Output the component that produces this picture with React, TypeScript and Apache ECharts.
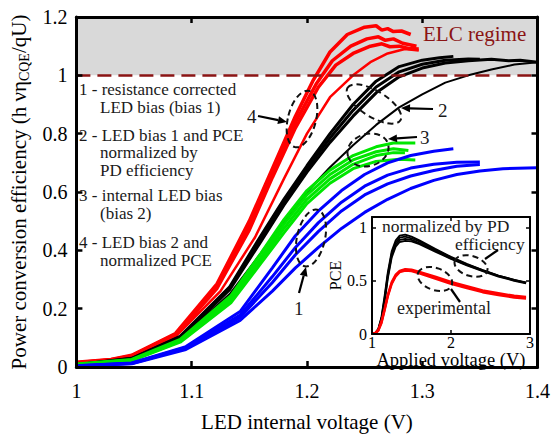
import React, { useEffect, useRef } from 'react';
import * as echarts from 'echarts';

type P = [number, number][];

const red1: P = [[1,0.016],[1.03,0.026],[1.048,0.04],[1.086,0.115],[1.122,0.285],[1.15,0.5],[1.17,0.68],[1.19,0.86],[1.205,0.98],[1.22,1.08],[1.235,1.14],[1.25,1.165],[1.26,1.17],[1.265,1.155],[1.27,1.16],[1.275,1.15],[1.282,1.152],[1.29,1.14]];
const red2: P = [[1,0.015],[1.03,0.025],[1.048,0.038],[1.086,0.112],[1.122,0.278],[1.15,0.485],[1.17,0.665],[1.19,0.84],[1.208,0.97],[1.222,1.05],[1.238,1.1],[1.252,1.125],[1.262,1.132],[1.268,1.12],[1.275,1.125],[1.283,1.11],[1.295,1.1]];
const red3: P = [[1,0.014],[1.03,0.024],[1.048,0.036],[1.086,0.108],[1.122,0.27],[1.15,0.47],[1.17,0.65],[1.19,0.82],[1.21,0.96],[1.225,1.035],[1.24,1.075],[1.255,1.1],[1.265,1.108],[1.272,1.098],[1.28,1.1],[1.288,1.092],[1.297,1.09]];
const red4: P = [[1,0.013],[1.03,0.022],[1.048,0.034],[1.086,0.104],[1.125,0.26],[1.155,0.445],[1.18,0.645],[1.2,0.8],[1.22,0.925],[1.24,1.0],[1.255,1.045],[1.27,1.075],[1.285,1.09],[1.297,1.085]];

const blk1: P = [[1,0.008],[1.048,0.03],[1.09,0.105],[1.133,0.275],[1.16,0.45],[1.18,0.575],[1.2,0.69],[1.22,0.8],[1.24,0.9],[1.26,0.98],[1.28,1.03],[1.3,1.052],[1.315,1.06],[1.327,1.065]];
const blk2: P = [[1,0.008],[1.048,0.029],[1.09,0.103],[1.133,0.27],[1.16,0.44],[1.18,0.565],[1.2,0.68],[1.22,0.785],[1.24,0.88],[1.26,0.96],[1.28,1.012],[1.3,1.038],[1.32,1.052],[1.34,1.056],[1.35,1.055]];
const blk3: P = [[1,0.007],[1.048,0.028],[1.09,0.1],[1.133,0.265],[1.16,0.43],[1.18,0.555],[1.2,0.668],[1.22,0.77],[1.24,0.86],[1.26,0.94],[1.28,0.995],[1.3,1.025],[1.32,1.042],[1.34,1.05],[1.36,1.055],[1.375,1.05],[1.385,1.052],[1.4,1.045]];
const blk4: P = [[1,0.007],[1.048,0.027],[1.09,0.097],[1.133,0.25],[1.16,0.39],[1.18,0.5],[1.2,0.6],[1.22,0.685],[1.24,0.76],[1.26,0.83],[1.28,0.89],[1.3,0.935],[1.32,0.975],[1.34,1.0],[1.36,1.02],[1.38,1.037],[1.4,1.045]];

const grn1: P = [[1,0.01],[1.048,0.026],[1.09,0.095],[1.134,0.245],[1.16,0.39],[1.18,0.505],[1.2,0.605],[1.22,0.675],[1.24,0.725],[1.26,0.755],[1.275,0.768],[1.294,0.768]];
const grn2: P = [[1,0.009],[1.048,0.024],[1.09,0.09],[1.134,0.235],[1.16,0.375],[1.18,0.49],[1.2,0.59],[1.22,0.66],[1.24,0.71],[1.26,0.738],[1.275,0.748],[1.288,0.742]];
const grn3: P = [[1,0.009],[1.048,0.023],[1.09,0.088],[1.134,0.228],[1.16,0.365],[1.18,0.475],[1.2,0.575],[1.22,0.645],[1.24,0.695],[1.26,0.725],[1.275,0.735],[1.285,0.735]];
const grn4: P = [[1,0.008],[1.048,0.022],[1.09,0.085],[1.134,0.22],[1.16,0.355],[1.18,0.46],[1.2,0.56],[1.22,0.63],[1.24,0.68],[1.26,0.705],[1.28,0.712],[1.294,0.71]];

const blu1: P = [[1,0.004],[1.048,0.014],[1.095,0.07],[1.142,0.19],[1.17,0.34],[1.19,0.45],[1.21,0.535],[1.23,0.605],[1.25,0.66],[1.27,0.7],[1.29,0.725],[1.31,0.74],[1.327,0.748]];
const blu2: P = [[1,0.004],[1.048,0.013],[1.095,0.067],[1.142,0.178],[1.17,0.31],[1.19,0.41],[1.21,0.495],[1.23,0.565],[1.25,0.62],[1.27,0.658],[1.29,0.682],[1.31,0.695],[1.33,0.702],[1.35,0.703]];
const blu3: P = [[1,0.003],[1.048,0.012],[1.095,0.064],[1.142,0.17],[1.17,0.29],[1.19,0.385],[1.21,0.465],[1.23,0.535],[1.25,0.59],[1.27,0.628],[1.29,0.655],[1.31,0.674],[1.33,0.688],[1.35,0.694]];
const blu4: P = [[1,0.003],[1.048,0.011],[1.095,0.06],[1.142,0.16],[1.17,0.26],[1.19,0.34],[1.21,0.41],[1.23,0.475],[1.25,0.53],[1.27,0.575],[1.29,0.612],[1.31,0.64],[1.33,0.66],[1.35,0.672],[1.37,0.68],[1.4,0.683]];

// inset: PCE vs applied voltage
const inBlk1: P = [[1,0],[1.04,0.01],[1.08,0.05],[1.12,0.16],[1.16,0.36],[1.2,0.58],[1.25,0.78],[1.3,0.88],[1.35,0.925],[1.42,0.935],[1.5,0.915],[1.6,0.88],[1.8,0.8],[2,0.725],[2.2,0.66],[2.4,0.6],[2.6,0.55],[2.8,0.51],[2.95,0.48]];
const inBlk2: P = [[1,0],[1.04,0.008],[1.08,0.045],[1.12,0.15],[1.16,0.34],[1.2,0.56],[1.25,0.76],[1.3,0.86],[1.35,0.905],[1.42,0.915],[1.5,0.9],[1.6,0.87],[1.8,0.795],[2,0.72],[2.2,0.655],[2.4,0.6],[2.6,0.55],[2.8,0.51],[2.95,0.485]];
const inBlk3: P = [[1,0],[1.04,0.007],[1.08,0.04],[1.12,0.14],[1.16,0.32],[1.2,0.54],[1.25,0.74],[1.3,0.84],[1.35,0.885],[1.42,0.895],[1.5,0.885],[1.6,0.855],[1.8,0.785],[2,0.71],[2.2,0.65],[2.4,0.595],[2.6,0.545],[2.8,0.505],[2.95,0.48]];
const inBlk4: P = [[1,0],[1.04,0.006],[1.08,0.035],[1.12,0.13],[1.16,0.3],[1.2,0.52],[1.25,0.72],[1.3,0.82],[1.35,0.865],[1.42,0.875],[1.5,0.87],[1.6,0.845],[1.8,0.775],[2,0.705],[2.2,0.645],[2.4,0.59],[2.6,0.54],[2.8,0.5],[2.95,0.475]];
const inRed1: P = [[1,0],[1.04,0.01],[1.08,0.04],[1.12,0.12],[1.16,0.24],[1.2,0.37],[1.25,0.49],[1.3,0.56],[1.35,0.595],[1.42,0.61],[1.5,0.605],[1.6,0.585],[1.8,0.54],[2,0.49],[2.2,0.45],[2.4,0.41],[2.6,0.385],[2.8,0.36],[2.95,0.35]];
const inRed2: P = [[1,0],[1.04,0.008],[1.08,0.035],[1.12,0.11],[1.16,0.23],[1.2,0.36],[1.25,0.48],[1.3,0.55],[1.35,0.588],[1.42,0.603],[1.5,0.598],[1.6,0.578],[1.8,0.53],[2,0.48],[2.2,0.44],[2.4,0.4],[2.6,0.375],[2.8,0.35],[2.95,0.34]];
const inRed3: P = [[1,0],[1.04,0.007],[1.08,0.03],[1.12,0.1],[1.16,0.22],[1.2,0.35],[1.25,0.47],[1.3,0.54],[1.35,0.58],[1.42,0.595],[1.5,0.59],[1.6,0.57],[1.8,0.52],[2,0.47],[2.2,0.43],[2.4,0.392],[2.6,0.365],[2.8,0.342],[2.95,0.332]];

const xTickLabelsMain = ['1', '1.1', '1.2', '1.3', '1.4'];
const yTickLabelsMain = ['0', '0.2', '0.4', '0.6', '0.8', '1', '1.2'];

const FONT = "'Liberation Serif', 'Times New Roman', serif";
const DARKRED = '#8b1414';
const TXT = '#1a1a1a';

function arrow(x1: number, y1: number, x2: number, y2: number, head = true) {
  const a = Math.atan2(y2 - y1, x2 - x1);
  const L = head ? 9 : 0, W = 4;
  const c = Math.cos(a), s = Math.sin(a);
  const bx = x2 - L * c, by = y2 - L * s;
  const els: any[] = [
    { type: 'line', z: 100, shape: { x1, y1, x2: bx, y2: by }, style: { stroke: '#000', lineWidth: 2.2 } },
  ];
  if (head) {
    els.push({
      type: 'polygon', z: 100,
      shape: { points: [[x2, y2], [bx - W * s, by + W * c], [bx + W * s, by - W * c]] },
      style: { fill: '#000' },
    });
  }
  return els;
}

function ell(cx: number, cy: number, rx: number, ry: number, rot: number) {
  return {
    type: 'ellipse', z: 100, x: cx, y: cy, rotation: rot,
    shape: { cx: 0, cy: 0, rx, ry },
    style: { fill: 'none', stroke: '#111', lineWidth: 2, lineDash: [6, 4] },
  };
}

function txt(x: number, y: number, text: string, size: number, color = TXT) {
  return {
    type: 'text', z: 100, x, y,
    style: {
      text, fontSize: size, fontFamily: FONT, fill: color,
      align: 'left', verticalAlign: 'middle', lineHeight: size,
    },
  };
}

export default function App() {
  const ref = useRef<HTMLDivElement>(null);
  useEffect(() => {
    const chart = echarts.init(ref.current!, null, { renderer: 'svg' });

    const line = (data: P, color: string, width: number, xi = 0, yi = 0, z = 3) => ({
      type: 'line', data, xAxisIndex: xi, yAxisIndex: yi, showSymbol: false, symbol: 'none',
      lineStyle: { color, width }, z, silent: true,
    });

    const frameAxis = (common: any) => ({
      type: 'value', z: 10,
      splitLine: { show: false },
      axisLine: { show: true, onZero: false, lineStyle: { color: '#000', width: 3 } },
      axisTick: { show: true, inside: true, length: 6, lineStyle: { color: '#000', width: 2.5 } },
      ...common,
    });
    const insetAxis = (common: any) => ({
      type: 'value', z: 12,
      splitLine: { show: false },
      axisLine: { show: true, onZero: false, lineStyle: { color: '#000', width: 2 } },
      axisTick: { show: true, inside: true, length: 4, lineStyle: { color: '#000', width: 1.5 } },
      ...common,
    });

    const mainLabel = { fontSize: 20, fontFamily: FONT, color: '#000' };

    const option: any = {
      animation: false,
      backgroundColor: '#fff',
      grid: [
        { left: 71, top: 17, width: 468, height: 352, show: false },
        { left: 372, top: 217, width: 158, height: 117, show: true, backgroundColor: '#fff', borderWidth: 0, z: 5 },
      ],
      xAxis: [
        frameAxis({
          gridIndex: 0, position: 'bottom', min: 1, max: 1.4, interval: 0.1,
          axisLabel: { ...mainLabel, margin: 14, formatter: (v: number) => xTickLabelsMain[Math.round((v - 1) * 10)] ?? '' },
          name: 'LED internal voltage (V)', nameLocation: 'middle', nameGap: 44,
          nameTextStyle: { fontSize: 21, fontFamily: FONT, color: '#000' },
        }),
        frameAxis({ gridIndex: 0, position: 'top', min: 1, max: 1.4, interval: 0.1, axisLabel: { show: false } }),
        insetAxis({
          gridIndex: 1, position: 'bottom', min: 1, max: 3, interval: 1,
          axisLabel: { fontSize: 16, fontFamily: FONT, color: '#000', margin: 1, lineHeight: 14 },
          name: 'Applied voltage (V)', nameLocation: 'middle', nameGap: 13,
          nameTextStyle: { fontSize: 18.5, fontFamily: FONT, color: '#000', lineHeight: 17 },
        }),
        insetAxis({ gridIndex: 1, position: 'top', min: 1, max: 3, interval: 1, axisLabel: { show: false } }),
      ],
      yAxis: [
        frameAxis({
          gridIndex: 0, position: 'left', min: 0, max: 1.2, interval: 0.2,
          axisLabel: { ...mainLabel, margin: 9, formatter: (v: number) => yTickLabelsMain[Math.round(v * 5)] ?? '' },
          name: '{n|Power conversion efficiency (h νη}{s|CQE}{n|/qU)}',
          nameLocation: 'middle', nameGap: 36,
          nameTextStyle: {
            fontFamily: FONT, color: '#000',
            rich: {
              n: { fontSize: 21, fontFamily: FONT, color: '#000' },
              s: { fontSize: 14, fontFamily: FONT, color: '#000', padding: [12, 0, 0, 0] },
            },
          },
        }),
        frameAxis({ gridIndex: 0, position: 'right', min: 0, max: 1.2, interval: 0.2, axisLabel: { show: false } }),
        insetAxis({
          gridIndex: 1, position: 'left', min: 0, max: 1.1, interval: 0.5,
          axisLabel: {
            fontSize: 16, fontFamily: FONT, color: '#000', margin: 5, showMaxLabel: false,
            formatter: (v: number) => (Math.abs(v - 1.1) < 1e-6 ? '' : String(v)),
          },
          name: 'PCE', nameLocation: 'middle', nameGap: 27,
          nameTextStyle: { fontSize: 16, fontFamily: FONT, color: '#000' },
        }),
        insetAxis({ gridIndex: 1, position: 'right', min: 0, max: 1.1, interval: 0.5, axisLabel: { show: false } }),
      ],
      series: [
        {
          type: 'line', data: [], xAxisIndex: 0, yAxisIndex: 0, z: 1, silent: true,
          markArea: {
            silent: true,
            itemStyle: { color: '#d9d9d9' },
            data: [[{ yAxis: 1 }, { yAxis: 1.2 }]],
          },
          markLine: {
            silent: true, symbol: ['none', 'none'], label: { show: false },
            lineStyle: { color: DARKRED, width: 2.5, type: [14, 7] },
            data: [{ yAxis: 1 }],
          },
        },
        line(red1, '#ff0000', 3.5), line(red2, '#ff0000', 3.5), line(red3, '#ff0000', 3.5), line(red4, '#ff0000', 2.5),
        line(blk1, '#000000', 3), line(blk2, '#000000', 3), line(blk3, '#000000', 3), line(blk4, '#000000', 2),
        line(grn1, '#00e600', 3), line(grn2, '#00e600', 3), line(grn3, '#00e600', 3), line(grn4, '#00e600', 3),
        line(blu1, '#0000ff', 3), line(blu2, '#0000ff', 3), line(blu3, '#0000ff', 3), line(blu4, '#0000ff', 3),
        line(inBlk1, '#000000', 1.8, 2, 2, 6), line(inBlk2, '#000000', 1.8, 2, 2, 6),
        line(inBlk3, '#000000', 1.8, 2, 2, 6), line(inBlk4, '#000000', 1.8, 2, 2, 6),
        line(inRed1, '#ff0000', 2.2, 2, 2, 6), line(inRed2, '#ff0000', 2.2, 2, 2, 6), line(inRed3, '#ff0000', 2.2, 2, 2, 6),
      ],
      graphic: [
        txt(423, 34, 'ELC regime', 21, DARKRED),
        txt(79, 89.5, '1 - resistance corrected', 17),
        txt(100, 107, 'LED bias (bias 1)', 17),
        txt(79, 135, '2 - LED bias 1 and PCE', 17),
        txt(100, 152.5, 'normalized by', 17),
        txt(100, 170, 'PD efficiency', 17),
        txt(79, 195.5, '3 - internal LED bias', 17),
        txt(100, 213, '(bias 2)', 17),
        txt(79, 242.5, '4 - LED bias 2 and', 17),
        txt(100, 260, 'normalized PCE', 17),
        txt(247, 116, '4', 19),
        txt(438, 110, '2', 19),
        txt(420, 137, '3', 19),
        txt(294, 308, '1', 19),
        ell(302, 119, 14, 29, -0.25),
        ell(374, 104, 31, 13, -0.55),
        ell(368, 150, 21, 16, 0.3),
        ell(311, 238, 14, 29, -0.22),
        ...arrow(258, 116, 287, 122),
        ...arrow(433, 109, 401, 108),
        ...arrow(417, 137, 388, 139),
        ...arrow(299, 293, 306, 267),
        txt(382, 226, 'normalized by PD', 17.5),
        txt(455, 243.5, 'efficiency', 17.5),
        txt(397, 308, 'experimental', 18),
        ell(471, 266, 17, 10, -0.3),
        ell(435, 279, 18, 11, -0.35),
        ...arrow(485, 259, 498, 250, false),
        ...arrow(451, 289, 460, 302, false),
      ],
    };
    chart.setOption(option);
    return () => chart.dispose();
  }, []);
  return <div ref={ref} style={{ position: 'absolute', left: 0, top: 0, width: 553, height: 437 }} />;
}
